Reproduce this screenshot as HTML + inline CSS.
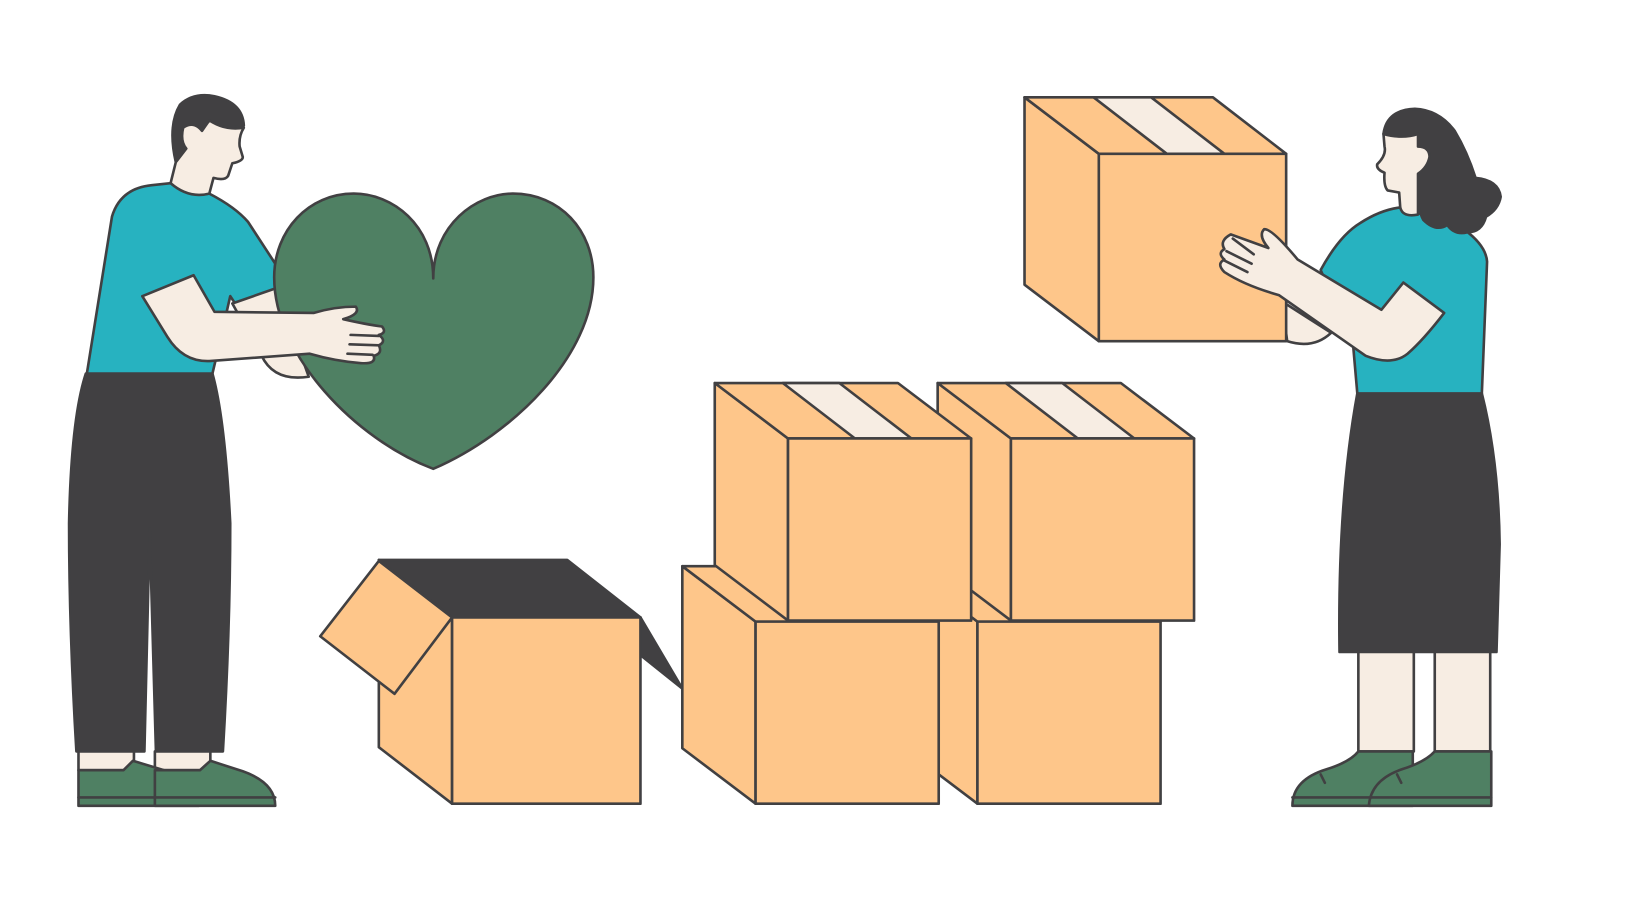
<!DOCTYPE html>
<html><head><style>html,body{margin:0;padding:0;background:#fff}svg{display:block}</style></head>
<body>
<svg width="1640" height="924" viewBox="0 0 1640 924" xmlns="http://www.w3.org/2000/svg" stroke="#414042" stroke-width="2.5" stroke-linejoin="round" stroke-linecap="round">
<g transform="scale(1.0465)">
<path d="M82,357 L203,357 Q215,400 220,500 Q220,600 213,718 L149,718 L143,505 L138,718 L73,718 Q66,600 66,500 Q68,400 82,357Z" fill="#414042"/>
<rect x="75" y="718" width="53" height="18" fill="#f7ede3"/>
<rect x="148" y="718" width="53" height="18" fill="#f7ede3"/>
<path d="M75,736 L118,736 L127,727 L160,737 Q190,748 190,770 L75,770Z" fill="#4f8063"/>
<path d="M148,736 L191,736 L201,727 L232,737 Q263,748 263,770 L148,770Z" fill="#4f8063"/>
<line x1="75" y1="762" x2="263" y2="762"/>
<path d="M83,357 L107,207 Q115,180 145,177 L163,175 Q180,188 200,185 Q225,198 237,212 L265,255 L262,280 L226,292 L220,283 L207,340 L203,357 Z" fill="#27b2c0"/>
<path d="M222,290 L265,275 L295,360 Q262,365 250,340 Z" fill="#f7ede3"/>
<path d="M168,155 Q160,120 172,100 Q185,88 205,92 Q232,98 233,120 Q215,125 200,115 L193,125 Q185,115 175,122 Q172,135 178,142 Z" fill="#414042"/>
<path d="M163,175 L168,155 L178,142 Q172,135 175,122 Q185,115 193,125 L200,115 Q215,125 233,122 Q228,130 229,140 L232,150 Q232,154 222,156 L218,168 Q215,173 204,170 L200,185 Q180,190 163,175Z" fill="#f7ede3"/>
<path d="M414,266 C414,215 375,185 338,185 C295,185 262,220 262,265 C262,340 340,420 414,448 C490,415 567,340 567,265 C567,220 535,185 490,185 C455,185 414,215 414,266 Z" fill="#4f8063"/>
<path d="M136,283 L185,263 L205,298 L300,299 Q320,293 340,293 Q345,300 328,305 Q350,310 365,312 Q370,318 362,320 Q370,326 362,330 Q366,338 357,340 Q360,348 345,347 Q320,345 296,338 L200,345 Q175,346 160,322 Z" fill="#f7ede3"/>
<path d="M335,320 L362,321 M334,329 L362,330 M332,338 L356,339" fill="none"/>
<polygon points="362,535 432,590 432,768 362,714" fill="#fec68a"/>
<polygon points="362,535 542,535 612,590 432,590" fill="#414042"/>
<polygon points="612,590 652,658 612,626" fill="#414042"/>
<rect x="432" y="590" width="180" height="178" fill="#fec68a"/>
<polygon points="306,608 362,536 432,590 377,663" fill="#fec68a"/>
<g>
<polygon points="864,541 934,594 934,768 864,715" fill="#fec68a"/>
<polygon points="864,541 1039,541 1109,594 934,594" fill="#fec68a"/>
<rect x="934" y="594" width="175" height="174" fill="#fec68a"/>
</g>
<g>
<polygon points="652,541 722,594 722,768 652,715" fill="#fec68a"/>
<polygon points="652,541 827,541 897,594 722,594" fill="#fec68a"/>
<rect x="722" y="594" width="175" height="174" fill="#fec68a"/>
</g>
<g>
<polygon points="896,366 966,419 966,593 896,540" fill="#fec68a"/>
<polygon points="896,366 1071,366 1141,419 966,419" fill="#fec68a"/>
<polygon points="961,366 1015,366 1084,419 1030,419" fill="#f7ede3"/>
<rect x="966" y="419" width="175" height="174" fill="#fec68a"/>
</g>
<g>
<polygon points="683,366 753,419 753,593 683,540" fill="#fec68a"/>
<polygon points="683,366 858,366 928,419 753,419" fill="#fec68a"/>
<polygon points="748,366 802,366 871,419 817,419" fill="#f7ede3"/>
<rect x="753" y="419" width="175" height="174" fill="#fec68a"/>
</g>
<path d="M1297,376 L1416,376 Q1432,440 1433,520 L1430,623 L1280,623 Q1278,480 1297,376Z" fill="#414042"/>
<rect x="1298" y="623" width="53" height="95" fill="#f7ede3"/>
<rect x="1371" y="623" width="53" height="95" fill="#f7ede3"/>
<path d="M1235,770 Q1235,745 1268,735 Q1290,728 1298,718 L1350,718 L1350,770Z" fill="#4f8063"/>
<path d="M1308,770 Q1310,745 1340,735 Q1362,728 1371,718 L1425,718 L1425,770 Z" fill="#4f8063"/>
<line x1="1235" y1="762" x2="1425" y2="762"/>
<path d="M1262,740 L1266,748 M1335,740 L1339,748" fill="none"/>
<path d="M1262,258 Q1280,225 1300,213 Q1320,200 1340,198 L1400,220 Q1420,235 1421,250 L1416,376 L1297,376 L1293,330 Z" fill="#27b2c0"/>
<path d="M1225,288 L1272,318 Q1255,334 1230,326 Z" fill="#f7ede3"/>
<polygon points="979,93 1050,147 1050,326 979,272" fill="#fec68a"/>
<polygon points="979,93 1159,93 1229,147 1050,147" fill="#fec68a"/>
<polygon points="1045,93 1100,93 1170,147 1115,147" fill="#f7ede3"/>
<rect x="1050" y="147" width="179" height="179" fill="#fec68a"/>
<path d="M1240,248 L1320,296 L1341,270 L1380,299 Q1360,325 1345,338 Q1330,350 1305,340 L1222,282 Q1190,273 1170,260 Q1162,252 1170,248 Q1163,242 1170,238 Q1165,230 1176,224 L1212,237 Q1202,225 1208,219 Q1215,218 1240,248Z" fill="#f7ede3"/>
<path d="M1172,240 L1196,252 M1170,249 L1192,260 M1178,228 L1198,243" fill="none"/>
<path d="M1322,128 Q1325,105 1352,104 Q1375,105 1390,125 Q1402,145 1410,170 Q1432,172 1434,188 Q1432,200 1420,207 Q1416,222 1402,222 Q1390,225 1383,215 Q1372,222 1360,210 Q1352,195 1355,160 L1355,128 Q1340,133 1322,128Z" fill="#414042"/>
<path d="M1322,128 Q1340,133 1355,128 L1355,140 Q1366,140 1366,150 Q1364,160 1355,166 L1355,205 Q1340,208 1338,198 L1337,184 L1326,182 Q1322,178 1323,165 Q1315,162 1316,157 Q1325,148 1323,140Z" fill="#f7ede3"/>
</g>
</svg>
</body></html>
